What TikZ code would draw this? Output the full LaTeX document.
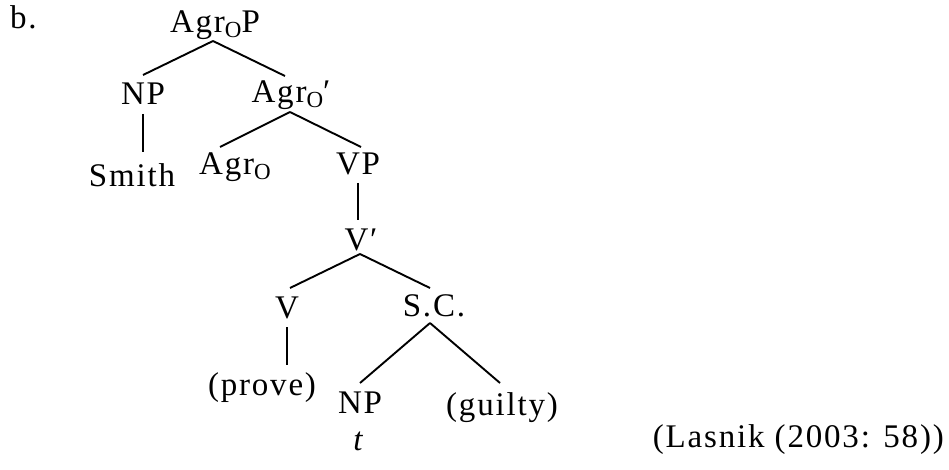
\documentclass[tikz,border=0pt]{standalone}
\usepackage{fontspec}
\setmainfont{Liberation Serif}[LetterSpace=5.5]
\usetikzlibrary{calc}
\newcommand\lowO{\raisebox{-0.13em}{\fontsize{23}{23}\selectfont O}}
\begin{document}
\begin{tikzpicture}[x=1pt,y=-1pt,
  lbl/.style={anchor=base,inner sep=0pt,font=\fontsize{33}{33}\selectfont},
  edge/.style={line width=1.9pt}]
\useasboundingbox (0,0) rectangle (949,470);
\node[lbl,anchor=base west] (b) at (10,29) {b.};
\node[lbl] (agrop) at (215,33) {Agr\lowO P};
\node[lbl] (np1) at (143,105) {NP};
\node[lbl] (agrobar) at (291,103) {Agr\lowO′};
\node[lbl] (smith) at (132,187) {Smith};
\node[lbl] (agro) at (235,175) {Agr\lowO};
\node[lbl] (vp) at (358,175) {VP};
\node[lbl] (vbar) at (361,250) {V′};
\node[lbl] (v) at (287,318) {V};
\node[lbl] (sc) at (434,316) {S.C.};
\node[lbl] (prove) at (262,395) {(prove)};
\node[lbl] (np2) at (360,413) {NP};
\node[lbl] (guilty) at (502,415) {(guilty)};
\node[lbl] (t) at (358,450) {\itshape t};
\node[lbl,anchor=base east] (src) at (944,447) {(Lasnik (2003: 58))};
\draw[edge] ([shift={(-2,8)}]agrop.base) -- ([shift={(0,-30)}]np1.base);
\draw[edge] ([shift={(-2,8)}]agrop.base) -- ([shift={(-6,-27)}]agrobar.base);
\draw[edge] ([shift={(0,9)}]np1.base) -- ([shift={(11,-35)}]smith.base);
\draw[edge] ([shift={(-1,9)}]agrobar.base) -- ([shift={(-15,-28)}]agro.base);
\draw[edge] ([shift={(-1,9)}]agrobar.base) -- ([shift={(3,-28)}]vp.base);
\draw[edge] ([shift={(0,8)}]vp.base) -- ([shift={(-3,-30)}]vbar.base);
\draw[edge] ([shift={(-1,4)}]vbar.base) -- ([shift={(3,-30)}]v.base);
\draw[edge] ([shift={(-1,4)}]vbar.base) -- ([shift={(-4,-28)}]sc.base);
\draw[edge] ([shift={(0,9)}]v.base) -- ([shift={(25,-30)}]prove.base);
\draw[edge] ([shift={(-4,7)}]sc.base) -- ([shift={(0,-30)}]np2.base);
\draw[edge] ([shift={(-4,7)}]sc.base) -- ([shift={(-2,-32)}]guilty.base);
\end{tikzpicture}
\end{document}
